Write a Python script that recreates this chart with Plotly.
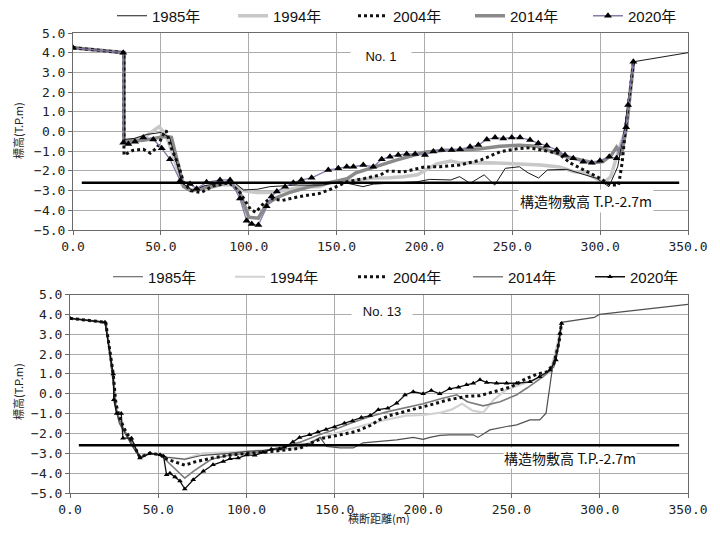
import plotly.graph_objects as go

# page body has an 8px margin: the figure is sized to fit inside the 720x535 window
OFF = 8
W, H = 720 - 2 * OFF, 535 - 2 * OFF


def px(v):
    return (v - OFF) / W


def py(v):
    return 1 - (v - OFF) / H


# ---------------- No. 1 (top) ----------------
years = ["1985年", "1994年", "2004年", "2014年", "2020年"]

t1985_x = [0, 29, 29, 35, 42, 50, 55, 62, 68, 75, 85, 92, 97, 105, 112, 127, 142, 152, 161, 165, 171, 184, 196, 203, 215, 220, 226, 234, 240, 246, 254, 259, 265, 270, 281, 298, 305, 310, 314, 319, 350]
t1985_y = [4.25, 4.0, -0.4, -0.35, -0.15, -0.05, -0.3, -2.6, -3.0, -2.75, -2.6, -2.6, -2.97, -2.93, -2.8, -2.72, -2.72, -2.55, -2.72, -2.8, -2.67, -2.6, -2.55, -2.43, -2.46, -2.29, -2.63, -2.2, -2.72, -1.87, -1.79, -2.1, -2.36, -1.95, -1.92, -2.38, -2.8, -1.79, 0.24, 3.54, 4.0]

t1994_x = [0, 29, 29, 35, 42, 49, 53, 57, 62, 68, 75, 85, 92, 97, 105, 112, 120, 130, 140, 146, 155, 165, 171, 180, 188, 196, 201, 207, 215, 220, 237, 254, 266, 277, 285, 292, 298, 302, 306, 311, 315, 319]
t1994_y = [4.25, 4.0, -0.5, -0.4, -0.2, 0.25, -0.2, -1.2, -2.7, -3.0, -2.8, -2.7, -2.7, -3.0, -3.1, -3.1, -3.0, -2.8, -2.8, -2.6, -2.55, -2.45, -2.36, -2.35, -2.3, -2.2, -1.95, -1.65, -1.5, -1.6, -1.58, -1.65, -1.7, -1.8, -2.04, -2.1, -2.38, -2.6, -2.3, -0.8, 0.2, 3.54]

t2004_x = [0, 29, 29, 34, 40, 44, 48, 51, 53, 56, 60, 63, 67, 73, 80, 89, 95, 98, 101, 104, 108, 112, 119, 129, 140, 146, 156, 166, 175, 179, 188, 200, 209, 220, 232, 243, 253, 260, 268, 276, 283, 293, 300, 306, 310.5, 312.5, 314.4, 319]
t2004_y = [4.25, 4.0, -1.2, -0.96, -0.9, -1.1, -0.8, -0.2, 0.05, -0.85, -1.7, -2.6, -3.0, -3.1, -2.75, -2.6, -3.1, -3.5, -3.95, -4.1, -3.7, -3.4, -3.5, -3.3, -3.15, -2.95, -2.55, -2.38, -2.2, -2.0, -2.05, -1.8, -1.79, -1.7, -1.45, -1.03, -0.87, -0.83, -0.95, -1.1, -1.6, -2.04, -2.38, -2.72, -2.72, -1.6, 0.07, 3.54]

t2014_x = [0, 29, 29, 40, 52, 56, 63, 67, 73, 80, 89, 95, 100, 105.5, 110, 116, 123, 135, 146, 156, 161, 171, 184, 200, 211, 220, 232, 243, 254, 264, 273.5, 281, 289, 296, 301.6, 306.4, 309.3, 312, 315, 319]
t2014_y = [4.25, 4.0, -0.5, -0.45, -0.25, -0.3, -2.8, -3.0, -2.9, -2.8, -2.55, -3.1, -4.35, -4.4, -3.7, -3.35, -3.1, -2.8, -2.6, -2.4, -2.1, -1.8, -1.45, -1.05, -0.95, -0.95, -0.87, -0.75, -0.7, -0.75, -1.04, -1.28, -1.45, -1.58, -1.53, -1.2, -0.8, -1.2, 0.2, 3.54]

t2020_x = [0, 28.6, 28.6, 31.5, 35.3, 40, 45.7, 50.5, 55.2, 61, 66.6, 70.4, 76, 83.7, 89.4, 95, 98.8, 101.7, 105.5, 110.2, 113, 116, 120.7, 125.4, 130, 135.8, 145.3, 151, 155.8, 159.6, 165.2, 170.9, 175.7, 180.4, 185.1, 189.9, 194.7, 200.3, 205.1, 209.8, 215.5, 220.3, 226, 230.7, 235.5, 240.2, 244.9, 249.7, 254.4, 260.1, 264.8, 269.6, 275.3, 280, 284.7, 290.4, 295.2, 299.9, 305.2, 309.4, 314.8, 315.9, 318.9]
t2020_y = [4.25, 4.0, -0.57, -0.63, -0.52, -0.3, -0.4, -0.85, -1.41, -2.5, -2.67, -2.9, -2.58, -2.46, -2.46, -3.4, -4.53, -4.7, -4.75, -3.8, -3.3, -3.05, -2.8, -2.6, -2.46, -2.35, -1.95, -1.87, -1.79, -1.79, -1.7, -1.79, -1.41, -1.28, -1.19, -1.14, -1.14, -1.19, -1.02, -0.94, -0.94, -0.9, -0.77, -0.69, -0.4, -0.31, -0.35, -0.31, -0.31, -0.43, -0.6, -0.72, -0.94, -1.19, -1.36, -1.53, -1.58, -1.48, -1.28, -1.36, 0.21, 1.35, 3.54]

# ---------------- No. 13 (bottom) ----------------
b1985_x = [0, 20.2, 24.5, 26, 28, 31, 35, 39.6, 45.3, 51, 55, 65, 75, 90, 100, 110, 120, 130, 136, 141.6, 145.3, 152.9, 160.4, 166, 175.5, 185, 194.4, 200, 203.8, 209.5, 215, 228.4, 231, 237.8, 247.3, 253, 260.5, 266, 269.6, 271.8, 273.6, 276.4, 278.4, 297, 300, 350]
b1985_y = [3.8, 3.6, 0.5, -0.8, -1.5, -2.0, -2.6, -3.24, -3.0, -3.07, -3.2, -3.3, -3.1, -3.0, -2.9, -2.85, -2.7, -2.55, -2.5, -2.2, -2.66, -2.73, -2.73, -2.47, -2.4, -2.32, -2.2, -2.3, -2.2, -2.1, -2.07, -2.07, -2.2, -1.82, -1.65, -1.57, -1.32, -1.32, -0.98, 0.36, 1.53, 2.37, 3.6, 3.85, 4.0, 4.5]

b1994_x = [0, 20.2, 24.5, 26, 28, 31, 35, 39.6, 45.3, 51, 55, 65, 75, 90, 100, 110, 120, 130, 140, 150, 160, 170, 180, 190, 200, 210, 216, 222, 228, 234, 240, 247, 255, 265, 272, 276, 278.4]
b1994_y = [3.8, 3.6, 0.8, -0.6, -1.4, -1.9, -2.5, -3.2, -3.0, -3.07, -3.2, -3.3, -3.0, -2.95, -2.9, -2.85, -2.8, -2.7, -2.3, -2.0, -1.75, -1.5, -1.3, -1.1, -1.07, -0.95, -0.8, -0.5, -0.85, -0.95, -0.3, 0.2, 0.45, 0.75, 1.1, 2.5, 3.6]

b2004_x = [0, 20.2, 24.5, 26, 28, 31, 35, 39.6, 45.3, 51, 55, 60, 65, 70, 80, 90, 100, 110, 120, 130, 136, 143, 153, 162, 170, 175.5, 181, 188.7, 196.2, 203.8, 213.2, 224.6, 232, 240, 250, 258, 265, 270, 274, 277, 278.4]
b2004_y = [3.8, 3.6, 1.0, -0.5, -1.2, -1.8, -2.4, -3.2, -3.0, -3.07, -3.3, -3.45, -3.6, -3.45, -3.25, -3.1, -3.0, -2.95, -2.85, -2.75, -2.5, -2.24, -2.07, -1.9, -1.6, -1.3, -1.1, -0.9, -0.74, -0.57, -0.33, -0.13, -0.1, 0.1, 0.35, 0.75, 1.0, 1.1, 1.5, 2.6, 3.6]

b2014_x = [0, 20.2, 24.5, 26, 28, 31, 35, 39.6, 45.3, 51, 55, 60, 65, 70, 80, 90, 100, 110, 120, 130, 140, 150, 160, 170, 180, 190, 200, 210, 219, 225, 234, 243.6, 253, 259, 268, 274, 277, 278.4]
b2014_y = [3.8, 3.6, 0.9, -0.7, -1.3, -1.9, -2.5, -3.2, -3.0, -3.07, -3.4, -3.8, -4.25, -3.9, -3.3, -3.1, -3.0, -2.9, -2.7, -2.45, -2.1, -1.8, -1.45, -1.15, -0.9, -0.7, -0.5, -0.25, -0.05, -0.4, -0.61, -0.4, -0.05, 0.3, 0.86, 1.36, 2.5, 3.6]

b2020_x = [0, 19.8, 24.5, 24.8, 26.4, 29, 30, 34.8, 39.6, 45.3, 51, 53, 54.7, 56.6, 59.5, 62.3, 65, 69.8, 75.5, 81, 86.8, 90.6, 95.2, 100, 104.6, 109.3, 114, 118.7, 121.5, 126.2, 130, 135.6, 140.4, 145, 149.8, 155.4, 160, 165, 170, 174.6, 180, 185, 189.7, 194.4, 200, 204.6, 209.4, 215, 220, 224.6, 228.4, 232.2, 236, 241.6, 247.3, 253, 260.5, 266, 271.8, 275.2, 277.5, 278.4]
b2020_y = [3.8, 3.6, 1.0, -0.3, -1.0, -1.0, -2.24, -2.24, -3.24, -3.0, -3.07, -3.15, -4.08, -4.0, -4.2, -4.4, -4.8, -4.33, -3.9, -3.58, -3.41, -3.28, -3.24, -3.08, -3.1, -2.95, -2.8, -2.78, -2.7, -2.43, -2.2, -2.07, -1.93, -1.8, -1.67, -1.48, -1.37, -1.2, -1.1, -0.8, -0.73, -0.48, -0.06, 0.1, 0.0, 0.17, 0.0, 0.25, 0.33, 0.45, 0.53, 0.7, 0.57, 0.53, 0.53, 0.53, 0.6, 0.86, 1.2, 1.7, 3.04, 3.54]

# structure base level line (drawn position) and its label
struct_x = [5, 345]
struct_y = [-2.6, -2.6]
struct_label = "構造物敷高 T.P.-2.7m"
section_labels = ["No. 1", "No. 13"]
y_title = "標高(T.P.m)"
x_title = "横断距離(m)"

x_range = [0, 350]
y_range = [-5, 5]
x_ticks = [0, 50, 100, 150, 200, 250, 300, 350]
y_ticks = [5, 4, 3, 2, 1, 0, -1, -2, -3, -4, -5]

fig = go.Figure()

top_styles = [
    dict(color="#1a1a1a", width=1, dash="solid"),
    dict(color="#c8c8c8", width=3.5, dash="solid"),
    dict(color="#111111", width=3, dash="dot"),
    dict(color="#8a8a8a", width=3.5, dash="solid"),
    dict(color="#8a7aaa", width=1.3, dash="solid"),
]
bot_styles = [
    dict(color="#505050", width=1.2, dash="solid"),
    dict(color="#d2d2d2", width=2.2, dash="solid"),
    dict(color="#111111", width=3, dash="dot"),
    dict(color="#7c7c7c", width=1.6, dash="solid"),
    dict(color="#111111", width=1.3, dash="solid"),
]
top_data = [(t1985_x, t1985_y), (t1994_x, t1994_y), (t2004_x, t2004_y), (t2014_x, t2014_y), (t2020_x, t2020_y)]
bot_data = [(b1985_x, b1985_y), (b1994_x, b1994_y), (b2004_x, b2004_y), (b2014_x, b2014_y), (b2020_x, b2020_y)]

# legend left positions (window px) for each entry
leg_left_top = [112, 233, 353, 470, 588]
leg_left_bot = [108, 230, 353, 468, 590]
leg_y_top = 16
leg_y_bot = 277

draw_order = [1, 3, 0, 2, 4]
legend_layouts = {}
legfont = dict(family="Liberation Sans, Noto Sans CJK JP", size=15, color="#111")


def leg_name(k):
    return "legend" if k == 1 else f"legend{k}"


for panel, (data, styles, xa, ya, msize, lefts, ly) in enumerate([
        (top_data, top_styles, "x", "y", 7, leg_left_top, leg_y_top),
        (bot_data, bot_styles, "x2", "y2", 5, leg_left_bot, leg_y_bot)]):
    for i in draw_order:
        k = panel * 5 + i + 1
        xs, ys = data[i]
        is_marked = (i == 4)
        fig.add_trace(go.Scatter(
            x=xs, y=ys, name=years[i], xaxis=xa, yaxis=ya,
            mode="lines+markers" if is_marked else "lines",
            line=styles[i],
            marker=dict(symbol="triangle-up", size=msize, color="#000000") if is_marked else None,
            legend=leg_name(k), showlegend=True,
        ))
        legend_layouts[leg_name(k)] = dict(
            x=px(lefts[i]), y=py(ly), xref="paper", yref="paper",
            xanchor="left", yanchor="middle", orientation="v",
            font=legfont, bgcolor="rgba(0,0,0,0)", borderwidth=0)

for xa, ya in [("x", "y"), ("x2", "y2")]:
    fig.add_trace(go.Scatter(x=struct_x, y=struct_y, xaxis=xa, yaxis=ya, mode="lines",
                             line=dict(color="#000000", width=2.5), showlegend=False, hoverinfo="skip"))

tickfont = dict(family="DejaVu Sans Mono", size=13, color="#222222")
axis_common = dict(showgrid=True, gridcolor="#ababab", gridwidth=1, zeroline=False,
                   showline=True, linecolor="#6a6a6a", linewidth=1, mirror=True,
                   ticks="outside", ticklen=4, tickcolor="#6a6a6a", tickfont=tickfont,
                   tickformat=".1f", automargin=False)

fig.update_layout(
    width=W, height=H, margin=dict(l=0, r=0, t=0, b=0, autoexpand=False),
    paper_bgcolor="white", plot_bgcolor="white",
    xaxis=dict(domain=[px(73), px(688)], range=x_range, tickvals=x_ticks, anchor="y", **axis_common),
    yaxis=dict(domain=[py(230), py(33)], range=y_range, tickvals=y_ticks, anchor="x", **axis_common),
    xaxis2=dict(domain=[px(70), px(688)], range=x_range, tickvals=x_ticks, anchor="y2", **axis_common),
    yaxis2=dict(domain=[py(493), py(294.5)], range=y_range, tickvals=y_ticks, anchor="x2", **axis_common),
    showlegend=True,
    **legend_layouts,
)

titlefont = dict(family="Noto Sans CJK JP", size=11, color="#222")
fig.add_annotation(x=px(18), y=py(131), xref="paper", yref="paper", text=y_title,
                   xanchor="center", yanchor="middle",
                   textangle=-90, showarrow=False, font=titlefont)
fig.add_annotation(x=px(18), y=py(392), xref="paper", yref="paper", text=y_title,
                   xanchor="center", yanchor="middle",
                   textangle=-90, showarrow=False, font=titlefont)
fig.add_annotation(x=px(379), y=py(518), xref="paper", yref="paper", text=x_title,
                   xanchor="center", yanchor="middle", borderpad=0,
                   showarrow=False, font=titlefont)

nb = "\u00a0"
fig.add_annotation(x=175, y=3.8, xref="x", yref="y", text=nb * 4 + section_labels[0] + nb * 4,
                   showarrow=False, bgcolor="white", borderpad=0,
                   font=dict(family="Liberation Sans, Noto Sans CJK JP", size=13, color="#111"))
fig.add_annotation(x=176.7, y=4.13, xref="x2", yref="y2", text=nb * 3 + section_labels[1] + nb * 3,
                   showarrow=False, bgcolor="white", borderpad=0,
                   font=dict(family="Liberation Sans, Noto Sans CJK JP", size=13, color="#111"))
fig.add_annotation(x=292, y=-3.53, xref="x", yref="y", text=struct_label,
                   showarrow=False, bgcolor="white", borderpad=1,
                   font=dict(family="Noto Sans CJK JP", size=14, color="#111"))
fig.add_annotation(x=283, y=-3.25, xref="x2", yref="y2", text=struct_label,
                   showarrow=False, bgcolor="white", borderpad=0,
                   font=dict(family="Noto Sans CJK JP", size=14, color="#111"))

fig.write_html("out.html")
